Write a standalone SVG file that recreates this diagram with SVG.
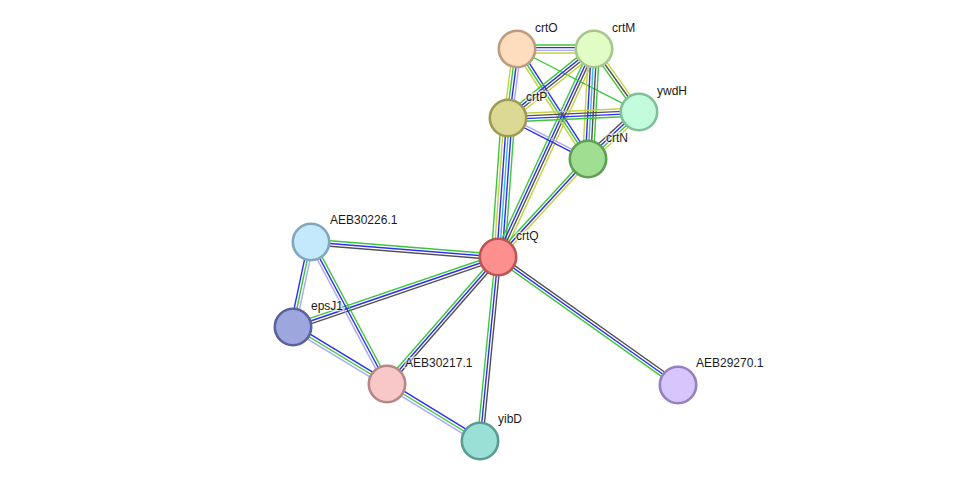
<svg xmlns="http://www.w3.org/2000/svg" width="975" height="486" viewBox="0 0 975 486">
<style>
line{stroke-width:1.4;fill:none}
.g{stroke:#3cc63c}.b{stroke:#2d2df2}.k{stroke:#505050}.y{stroke:#c4d23e}.c{stroke:#3ab8da}.l{stroke:#a9a9f7}
circle{stroke-width:2.6}
text{font-family:"Liberation Sans",Arial,sans-serif;font-size:12px;fill:#1a1a1a;stroke:#ffffff;stroke-width:3;stroke-opacity:0.6;paint-order:stroke;stroke-linejoin:round}
</style>
<rect width="975" height="486" fill="#ffffff"/>
<g id="edges">
<g transform="translate(311,242) rotate(4.59)"><line x1="0" y1="-2.7" x2="187.6" y2="-2.7" class="g"/><line x1="0" y1="0" x2="187.6" y2="0" class="b"/><line x1="0" y1="2.7" x2="187.6" y2="2.7" class="k"/></g>
<g transform="translate(293,327) rotate(-18.85)"><line x1="0" y1="-2.7" x2="216.6" y2="-2.7" class="g"/><line x1="0" y1="0" x2="216.6" y2="0" class="b"/><line x1="0" y1="2.7" x2="216.6" y2="2.7" class="k"/></g>
<g transform="translate(387,384) rotate(-48.85)"><line x1="0" y1="-2.7" x2="168.7" y2="-2.7" class="g"/><line x1="0" y1="0" x2="168.7" y2="0" class="b"/><line x1="0" y1="2.7" x2="168.7" y2="2.7" class="k"/></g>
<g transform="translate(480,441) rotate(-84.41)"><line x1="0" y1="-2.7" x2="184.9" y2="-2.7" class="g"/><line x1="0" y1="0" x2="184.9" y2="0" class="b"/><line x1="0" y1="2.7" x2="184.9" y2="2.7" class="k"/></g>
<g transform="translate(498,257) rotate(35.41)"><line x1="0" y1="-2.7" x2="220.9" y2="-2.7" class="k"/><line x1="0" y1="0" x2="220.9" y2="0" class="b"/><line x1="0" y1="2.7" x2="220.9" y2="2.7" class="g"/></g>
<g transform="translate(311,242) rotate(101.96)"><line x1="0" y1="2.7" x2="86.9" y2="2.7" class="b"/><line x1="0" y1="0" x2="86.9" y2="0" class="g"/><line x1="0" y1="-2.7" x2="86.9" y2="-2.7" class="l"/></g>
<g transform="translate(311,242) rotate(61.84)"><line x1="0" y1="2.7" x2="161.1" y2="2.7" class="l"/><line x1="0" y1="0" x2="161.1" y2="0" class="b"/><line x1="0" y1="-2.7" x2="161.1" y2="-2.7" class="g"/></g>
<g transform="translate(293,327) rotate(31.23)"><line x1="0" y1="-2.7" x2="109.9" y2="-2.7" class="b"/><line x1="0" y1="0" x2="109.9" y2="0" class="g"/><line x1="0" y1="2.7" x2="109.9" y2="2.7" class="l"/></g>
<g transform="translate(387,384) rotate(31.5)"><line x1="0" y1="-2.7" x2="109.1" y2="-2.7" class="b"/><line x1="0" y1="0" x2="109.1" y2="0" class="g"/><line x1="0" y1="2.7" x2="109.1" y2="2.7" class="l"/></g>
<g transform="translate(508,118) rotate(94.11)"><line x1="0" y1="6.75" x2="139.4" y2="6.75" class="g"/><line x1="0" y1="4.05" x2="139.4" y2="4.05" class="y"/><line x1="0" y1="1.35" x2="139.4" y2="1.35" class="b"/><line x1="0" y1="-1.35" x2="139.4" y2="-1.35" class="c"/><line x1="0" y1="-4.05" x2="139.4" y2="-4.05" class="b"/><line x1="0" y1="-6.75" x2="139.4" y2="-6.75" class="g"/></g>
<g transform="translate(498,257) rotate(-65.22)"><line x1="0" y1="-4.05" x2="229.1" y2="-4.05" class="g"/><line x1="0" y1="-1.35" x2="229.1" y2="-1.35" class="b"/><line x1="0" y1="1.35" x2="229.1" y2="1.35" class="k"/><line x1="0" y1="4.05" x2="229.1" y2="4.05" class="y"/></g>
<g transform="translate(498,257) rotate(-47.43)"><line x1="0" y1="-2.7" x2="133.1" y2="-2.7" class="g"/><line x1="0" y1="0" x2="133.1" y2="0" class="b"/><line x1="0" y1="2.7" x2="133.1" y2="2.7" class="y"/></g>
<g transform="translate(517,49)"><line x1="0" y1="-4.05" x2="77" y2="-4.05" class="g"/><line x1="0" y1="-1.35" x2="77" y2="-1.35" class="b"/><line x1="0" y1="1.35" x2="77" y2="1.35" class="l"/><line x1="0" y1="4.05" x2="77" y2="4.05" class="y"/></g>
<g transform="translate(517,49) rotate(97.43)"><line x1="0" y1="4.05" x2="69.6" y2="4.05" class="y"/><line x1="0" y1="1.35" x2="69.6" y2="1.35" class="g"/><line x1="0" y1="-1.35" x2="69.6" y2="-1.35" class="b"/><line x1="0" y1="-4.05" x2="69.6" y2="-4.05" class="l"/></g>
<g transform="translate(517,49) rotate(57.16)"><line x1="0" y1="-2.7" x2="130.9" y2="-2.7" class="b"/><line x1="0" y1="0" x2="130.9" y2="0" class="g"/><line x1="0" y1="2.7" x2="130.9" y2="2.7" class="y"/></g>
<g transform="translate(517,49) rotate(27.31)"><line x1="0" y1="0" x2="137.3" y2="0" class="g"/></g>
<g transform="translate(594,49) rotate(141.26)"><line x1="0" y1="4.05" x2="110.3" y2="4.05" class="g"/><line x1="0" y1="1.35" x2="110.3" y2="1.35" class="b"/><line x1="0" y1="-1.35" x2="110.3" y2="-1.35" class="k"/><line x1="0" y1="-4.05" x2="110.3" y2="-4.05" class="y"/></g>
<g transform="translate(594,49) rotate(93.12)"><line x1="0" y1="5.4" x2="110.2" y2="5.4" class="y"/><line x1="0" y1="2.7" x2="110.2" y2="2.7" class="b"/><line x1="0" y1="0" x2="110.2" y2="0" class="c"/><line x1="0" y1="-2.7" x2="110.2" y2="-2.7" class="k"/><line x1="0" y1="-5.4" x2="110.2" y2="-5.4" class="g"/></g>
<g transform="translate(594,49) rotate(54.46)"><line x1="0" y1="-2.7" x2="77.4" y2="-2.7" class="y"/><line x1="0" y1="0" x2="77.4" y2="0" class="k"/><line x1="0" y1="2.7" x2="77.4" y2="2.7" class="g"/></g>
<g transform="translate(508,118) rotate(-2.62)"><line x1="0" y1="-4.05" x2="131.1" y2="-4.05" class="y"/><line x1="0" y1="-1.35" x2="131.1" y2="-1.35" class="k"/><line x1="0" y1="1.35" x2="131.1" y2="1.35" class="b"/><line x1="0" y1="4.05" x2="131.1" y2="4.05" class="g"/></g>
<g transform="translate(508,118) rotate(27.14)"><line x1="0" y1="-1.35" x2="89.9" y2="-1.35" class="l"/><line x1="0" y1="1.35" x2="89.9" y2="1.35" class="b"/></g>
<g transform="translate(588,159) rotate(-42.66)"><line x1="0" y1="-4.05" x2="69.4" y2="-4.05" class="k"/><line x1="0" y1="-1.35" x2="69.4" y2="-1.35" class="b"/><line x1="0" y1="1.35" x2="69.4" y2="1.35" class="g"/><line x1="0" y1="4.05" x2="69.4" y2="4.05" class="y"/></g>
</g>
<g id="crtO"><circle cx="517" cy="49" r="18.2" fill="#fedcbe" stroke="#bc9c7e"/><text x="535" y="32">crtO</text></g>
<g id="crtM"><circle cx="594" cy="49" r="18.2" fill="#e1fcc5" stroke="#a6c68a"/><text x="612" y="32">crtM</text></g>
<g id="ywdH"><circle cx="639" cy="112" r="18.2" fill="#c2fcdc" stroke="#7fbf9a"/><text x="657" y="95">ywdH</text></g>
<g id="crtP"><circle cx="508" cy="118" r="18.2" fill="#dcd995" stroke="#9d9a58"/><text x="526" y="101">crtP</text></g>
<g id="crtN"><circle cx="588" cy="159" r="18.2" fill="#a0df92" stroke="#5e9f55"/><text x="606" y="142">crtN</text></g>
<g id="crtQ"><circle cx="498" cy="257" r="18.2" fill="#fd8f8f" stroke="#bd5454"/><text x="516" y="240">crtQ</text></g>
<g id="AEB30226.1"><circle cx="311" cy="242" r="18.2" fill="#c4e8fc" stroke="#82a6bc"/><text x="330" y="224">AEB30226.1</text></g>
<g id="epsJ1"><circle cx="293" cy="327" r="18.2" fill="#9da7de" stroke="#5a629c"/><text x="311" y="310">epsJ1</text></g>
<g id="AEB30217.1"><circle cx="387" cy="384" r="18.2" fill="#f8c7c7" stroke="#b58787"/><text x="405" y="367">AEB30217.1</text></g>
<g id="yibD"><circle cx="480" cy="441" r="18.2" fill="#9ae0d6" stroke="#5a9c94"/><text x="498" y="423">yibD</text></g>
<g id="AEB29270.1"><circle cx="678" cy="385" r="18.2" fill="#d6c6fc" stroke="#9580c0"/><text x="696" y="367">AEB29270.1</text></g>
</svg>
